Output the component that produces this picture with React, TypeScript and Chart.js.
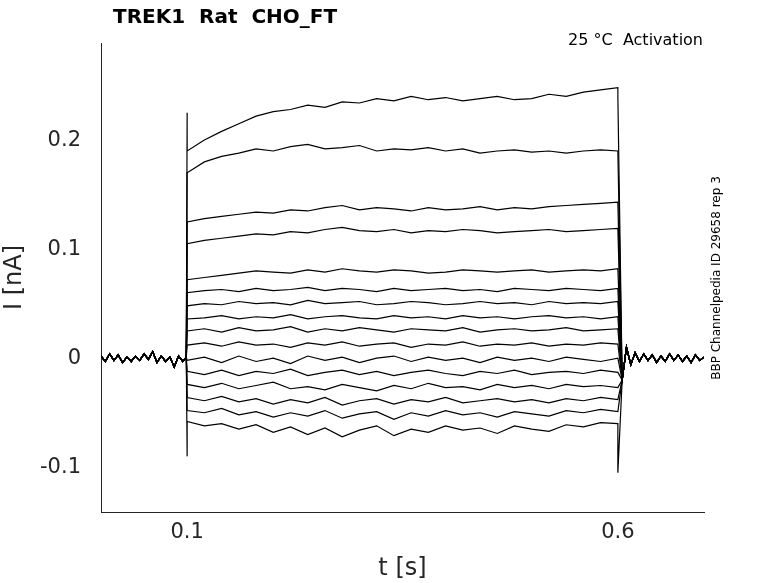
import React, { useEffect, useRef } from "react";
import { Chart, registerables } from "chart.js";
Chart.register(...registerables);

const preTimes = [0, 0.005, 0.01, 0.015, 0.02, 0.025, 0.03, 0.035, 0.04, 0.045, 0.05, 0.055, 0.06, 0.065, 0.07, 0.075, 0.08, 0.085, 0.09, 0.095, 0.099];
const preBase = [0.002, -0.003, 0.004, -0.002, 0.003, -0.004, 0.001, -0.003, 0.002, -0.002, 0.004, -0.001, 0.006, -0.004, 0.002, -0.003, 0.001, -0.008, 0.002, -0.003, 0.001];
const postTimes = [0.605, 0.61, 0.615, 0.62, 0.625, 0.63, 0.635, 0.64, 0.645, 0.65, 0.655, 0.66, 0.665, 0.67, 0.675, 0.68, 0.685, 0.69, 0.695, 0.7];
const postBase = [-0.02, 0.01, -0.006, 0.005, -0.003, 0.004, -0.002, 0.003, -0.004, 0.002, -0.003, 0.004, -0.002, 0.003, -0.003, 0.002, -0.004, 0.003, -0.002, 0.001];
const stepTimes = [0.1, 0.12, 0.14, 0.16, 0.18, 0.2, 0.22, 0.24, 0.26, 0.28, 0.3, 0.32, 0.34, 0.36, 0.38, 0.4, 0.42, 0.44, 0.46, 0.48, 0.5, 0.52, 0.54, 0.56, 0.58, 0.6];
const traces = [
  [0.190,0.200,0.208,0.215,0.222,0.226,0.228,0.232,0.230,0.235,0.234,0.238,0.236,0.240,0.237,0.239,0.236,0.238,0.240,0.237,0.238,0.242,0.240,0.244,0.246,0.248],
  [0.170,0.180,0.185,0.188,0.192,0.190,0.194,0.196,0.192,0.193,0.195,0.190,0.192,0.191,0.193,0.190,0.192,0.188,0.190,0.191,0.189,0.190,0.188,0.190,0.191,0.190],
  [0.125,0.128,0.130,0.132,0.134,0.133,0.136,0.135,0.138,0.140,0.136,0.138,0.137,0.135,0.138,0.136,0.137,0.139,0.136,0.138,0.137,0.139,0.140,0.141,0.142,0.143],
  [0.105,0.108,0.110,0.112,0.114,0.113,0.116,0.115,0.118,0.120,0.117,0.116,0.118,0.115,0.117,0.116,0.118,0.117,0.115,0.116,0.117,0.118,0.116,0.117,0.118,0.119],
  [0.072,0.074,0.076,0.078,0.080,0.079,0.078,0.081,0.079,0.082,0.080,0.079,0.081,0.080,0.078,0.079,0.081,0.080,0.079,0.080,0.081,0.079,0.080,0.081,0.080,0.082],
  [0.060,0.062,0.063,0.061,0.064,0.062,0.063,0.065,0.062,0.064,0.063,0.061,0.064,0.062,0.063,0.064,0.062,0.063,0.061,0.064,0.063,0.062,0.064,0.063,0.062,0.064],
  [0.048,0.050,0.049,0.052,0.050,0.051,0.049,0.053,0.050,0.051,0.052,0.049,0.050,0.052,0.051,0.049,0.050,0.052,0.050,0.051,0.049,0.052,0.050,0.051,0.050,0.052],
  [0.036,0.037,0.039,0.036,0.038,0.037,0.040,0.036,0.038,0.039,0.037,0.036,0.039,0.037,0.038,0.036,0.039,0.037,0.038,0.036,0.038,0.039,0.037,0.038,0.036,0.038],
  [0.025,0.027,0.024,0.028,0.025,0.026,0.029,0.024,0.027,0.025,0.028,0.026,0.024,0.027,0.026,0.025,0.028,0.024,0.026,0.027,0.025,0.026,0.028,0.025,0.026,0.027],
  [0.012,0.014,0.011,0.015,0.012,0.013,0.010,0.014,0.012,0.015,0.011,0.013,0.014,0.010,0.013,0.012,0.015,0.011,0.013,0.012,0.014,0.011,0.013,0.012,0.014,0.013],
  [-0.002,0.001,-0.004,0.002,-0.003,0.000,-0.005,0.002,-0.002,0.001,-0.004,0.000,0.002,-0.003,0.001,-0.002,0.000,-0.004,0.001,-0.002,0.000,-0.003,0.001,-0.001,-0.003,0.000],
  [-0.012,-0.015,-0.011,-0.016,-0.012,-0.014,-0.010,-0.016,-0.013,-0.011,-0.015,-0.012,-0.016,-0.013,-0.011,-0.014,-0.016,-0.012,-0.014,-0.011,-0.015,-0.013,-0.012,-0.014,-0.011,-0.013],
  [-0.024,-0.027,-0.023,-0.028,-0.025,-0.022,-0.028,-0.026,-0.029,-0.024,-0.027,-0.030,-0.025,-0.028,-0.023,-0.027,-0.026,-0.029,-0.024,-0.027,-0.025,-0.028,-0.024,-0.026,-0.025,-0.027],
  [-0.036,-0.039,-0.035,-0.040,-0.037,-0.042,-0.038,-0.041,-0.036,-0.043,-0.039,-0.037,-0.042,-0.038,-0.040,-0.036,-0.041,-0.039,-0.037,-0.040,-0.038,-0.041,-0.037,-0.039,-0.036,-0.038],
  [-0.048,-0.050,-0.046,-0.052,-0.049,-0.054,-0.050,-0.053,-0.048,-0.055,-0.051,-0.049,-0.056,-0.050,-0.053,-0.048,-0.052,-0.050,-0.054,-0.049,-0.051,-0.053,-0.048,-0.050,-0.047,-0.049],
  [-0.058,-0.062,-0.060,-0.065,-0.061,-0.068,-0.063,-0.070,-0.064,-0.072,-0.066,-0.062,-0.071,-0.065,-0.068,-0.062,-0.066,-0.064,-0.069,-0.062,-0.065,-0.067,-0.061,-0.063,-0.059,-0.060],
];
const onSpikeUp = 0.225;
const onSpikeDown = -0.09;
const offSpikeUp = 0.24;
const offSpikeDown = -0.105;
const xTicks = [0.1, 0.6];
const yTicks = [-0.1, 0, 0.1, 0.2];

export default function App() {
  const ref = useRef<HTMLCanvasElement>(null);
  useEffect(() => {
    const datasets = traces.map((tr, i) => {
      const pts: { x: number; y: number }[] = [];
      preTimes.forEach((t, k) => pts.push({ x: t, y: preBase[k] }));
      if (i === 0) pts.push({ x: 0.1, y: onSpikeUp });
      if (i === traces.length - 1) pts.push({ x: 0.1, y: onSpikeDown });
      stepTimes.forEach((t, k) => pts.push({ x: t, y: tr[k] }));
      if (i === 0) pts.push({ x: 0.6, y: offSpikeUp });
      if (i === traces.length - 1) pts.push({ x: 0.6, y: offSpikeDown });
      postTimes.forEach((t, k) => pts.push({ x: t, y: postBase[k] }));
      return { data: pts, borderColor: "#000", borderWidth: 1.2, pointRadius: 0, tension: 0 };
    });
    const textPlugin = {
      id: "texts",
      afterDraw(c: any) {
        const ctx = c.ctx;
        ctx.save();
        ctx.fillStyle = "#000";
        ctx.font = "bold 20px 'DejaVu Sans'";
        ctx.textBaseline = "middle";
        ctx.fillText("TREK1  Rat  CHO_FT", 113, 18);
        ctx.font = "16px 'DejaVu Sans'";
        ctx.textAlign = "right";
        ctx.fillText("25 °C  Activation", 703, 41);
        ctx.translate(717, 278);
        ctx.rotate(-Math.PI / 2);
        ctx.textAlign = "center";
        ctx.font = "12px 'DejaVu Sans'";
        ctx.fillText("BBP Channelpedia ID 29658 rep 3", 0, 0);
        ctx.restore();
      },
    };
    const chart = new Chart(ref.current!, {
      type: "line",
      data: { datasets },
      plugins: [textPlugin],
      options: {
        animation: false,
        responsive: false,
        layout: { padding: { left: 0, top: 43, right: 74, bottom: 0 } },
        plugins: { legend: { display: false }, tooltip: { enabled: false } },
        scales: {
          x: {
            type: "linear", min: 0, max: 0.7,
            afterBuildTicks: (s: any) => { s.ticks = xTicks.map((v) => ({ value: v })); },
            afterFit: (s: any) => { s.height = 71; },
            grid: { display: false, drawTicks: false },
            border: { color: "#262626" },
            ticks: { color: "#262626", font: { size: 21, family: "'DejaVu Sans'" }, padding: 8, maxRotation: 0, callback: (v: any) => String(v) },
            title: { display: true, text: "t [s]", color: "#262626", font: { size: 24, family: "'DejaVu Sans'" }, padding: 0 },
          },
          y: {
            min: -0.141, max: 0.289,
            afterBuildTicks: (s: any) => { s.ticks = yTicks.map((v) => ({ value: v })); },
            afterFit: (s: any) => { s.width = 101; },
            grid: { display: false, drawTicks: false },
            border: { color: "#262626" },
            ticks: { color: "#262626", font: { size: 21, family: "'DejaVu Sans'" }, padding: 20, callback: (v: any) => String(Math.round(v * 10) / 10) },
            title: { display: true, text: "I [nA]", color: "#262626", font: { size: 24, family: "'DejaVu Sans'" }, padding: 0 },
          },
        },
      },
    } as any);
    return () => chart.destroy();
  }, []);
  return (
    <div style={{ position: "fixed", left: 0, top: 0, width: 778, height: 583, background: "#fff" }}>
      <canvas ref={ref} width={778} height={583} />
    </div>
  );
}
